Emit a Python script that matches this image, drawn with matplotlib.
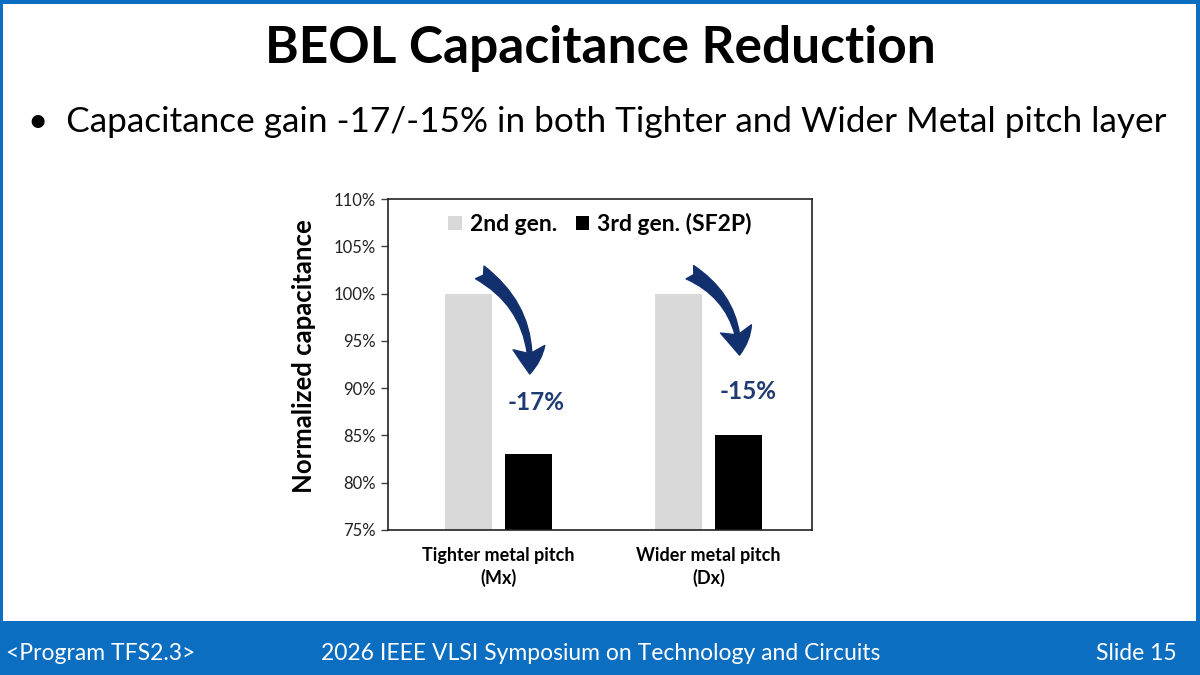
import matplotlib
matplotlib.use("Agg")
import matplotlib.pyplot as plt
from matplotlib.patches import Rectangle, FancyArrowPatch
from matplotlib.ticker import FuncFormatter

# data
categories = ["Tighter metal pitch\n(Mx)", "Wider metal pitch\n(Dx)"]
gen2 = [100, 100]
gen3 = [83, 85]
series_names = ["2nd gen.", "3rd gen. (SF2P)"]
y_ticks = [75, 80, 85, 90, 95, 100, 105, 110]

title = "BEOL Capacitance Reduction"
bullet = "\u2022  Capacitance gain -17/-15% in both Tighter and Wider Metal pitch layer"
footer_left = "<Program TFS2.3>"
footer_mid = "2026 IEEE VLSI Symposium on Technology and Circuits"
footer_right = "Slide 15"

BLUE = "#0B6EC1"
NAVY = "#13306E"
LABEL_NAVY = "#1F3B73"

W, H = 1200, 675
fig = plt.figure(figsize=(12, 6.75), dpi=100)
fig.patch.set_facecolor(BLUE)
plt.rcParams["font.family"] = ["Lato", "DejaVu Sans"]


def px(x, y):
    # pixel (from top-left) -> figure fraction
    return x / W, 1 - y / H


# white slide area inside blue frame and footer bar
fig.patches.append(Rectangle(px(3, 621), (W - 7) / W, (621 - 4) / H,
                             transform=fig.transFigure, facecolor="white",
                             edgecolor="none", zorder=-10))

fig.text(*px(600, 63), title, ha="center", va="baseline",
         fontsize=37, fontweight="bold", color="black")
fig.text(*px(28, 132), bullet, ha="left", va="baseline",
         fontsize=25.3, color="black")

fig.text(*px(6, 660), footer_left, ha="left", va="baseline", fontsize=16.5, color="white")
fig.text(*px(601, 660), footer_mid, ha="center", va="baseline", fontsize=16.5, color="white")
fig.text(*px(1177, 660), footer_right, ha="right", va="baseline", fontsize=16.5, color="white")

# chart
ax_l, ax_r, ax_t, ax_b = 388, 812, 199, 530
ax = fig.add_axes([ax_l / W, 1 - ax_b / H, (ax_r - ax_l) / W, (ax_b - ax_t) / H])
ax.set_facecolor("white")

bar_w = 0.224
off = 0.143
xs = list(range(len(categories)))
ax.bar([x - off for x in xs], [v - 75 for v in gen2], bottom=75, width=bar_w,
       color="#D9D9D9", label=series_names[0], zorder=2)
ax.bar([x + off for x in xs], [v - 75 for v in gen3], bottom=75, width=bar_w,
       color="black", label=series_names[1], zorder=2)

ax.set_xlim(-0.526, 1.493)
ax.set_ylim(75, 110)
ax.set_yticks(y_ticks)
ax.yaxis.set_major_formatter(FuncFormatter(lambda v, p: f"{v:.0f}%"))
ax.tick_params(axis="y", length=5, width=1, labelsize=12, pad=4, colors="#404040")
ax.tick_params(axis="y", labelcolor="#222222")
ax.set_xticks(xs)
ax.set_xticklabels(categories, fontsize=13, fontweight="bold", linespacing=1.35)
ax.tick_params(axis="x", length=0, pad=12)
for s in ax.spines.values():
    s.set_linewidth(1.2)
    s.set_color("#222222")

ax.set_ylabel("Normalized capacitance", fontsize=18.5, fontweight="bold")
ax.yaxis.set_label_coords(-0.17, 0.526)

leg = ax.legend(loc="center", bbox_to_anchor=(0.5, (ax_b - 224) / (ax_b - ax_t)),
                ncol=2, frameon=False, handlelength=0.6, handleheight=0.6,
                handletextpad=0.35, columnspacing=0.8,
                prop={"weight": "bold", "size": 16.5})

# reduction arrows and labels
for i in xs:
    pct = round((gen3[i] - gen2[i]) / gen2[i] * 100)
    arr = FancyArrowPatch((i - 0.1, gen2[i] + 2.4), (i + 0.148, gen3[i] + 8.2),
                          connectionstyle="arc3,rad=-0.3",
                          arrowstyle="fancy,head_length=0.95,head_width=1.15,tail_width=0.55",
                          mutation_scale=20, color=NAVY, zorder=3)
    ax.add_patch(arr)
    ax.text(i + 0.18 + 0.01 * i, gen3[i] + 5.5 - 0.9 * i, f"{pct}%", ha="center", va="center",
            fontsize=17.5, fontweight="bold", color=LABEL_NAVY)

fig.savefig("out.png", dpi=100, facecolor=fig.get_facecolor())
